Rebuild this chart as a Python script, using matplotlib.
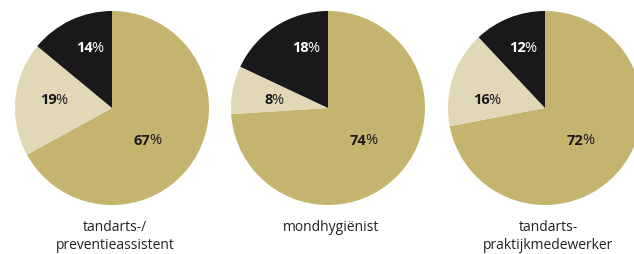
import numpy as np
import matplotlib
matplotlib.use("Agg")
import matplotlib.pyplot as plt

plt.rcParams["font.family"] = ["Open Sans", "DejaVu Sans"]

# share per group: [main, second, third] going clockwise from 12 o'clock
groups = ["tandarts-/\npreventieassistent", "mondhygiënist", "tandarts-\npraktijkmedewerker"]
share_main = [67, 74, 72]
share_mid = [19, 8, 16]
share_dark = [14, 18, 12]

colors = ["#c4b46e", "#e0d8b6", "#1b181c"]
label_colors = ["#1b181c", "#1b181c", "white"]

W, H = 634, 254
centers_x = [112, 328, 545]
cy = H - 108
R = 97
# label offsets from pie centre (px), same for every pie in the original
label_off = [(33, -33), (-61, 8), (-25, 60)]

fig = plt.figure(figsize=(W / 100, H / 100), dpi=100)
ax = fig.add_axes([0, 0, 1, 1])


def pct_label(x, y, val, color):
    t = ax.annotate(f"{val}", (x, y), xytext=(4, 0), textcoords="offset points",
                    ha="right", va="center", fontsize=10.5, fontweight="bold", color=color)
    ax.annotate("%", xy=(1, 0.5), xycoords=t, xytext=(-1.0, 0), textcoords="offset points",
                ha="left", va="center", fontsize=10.5, color=color)


for i, cx in enumerate(centers_x):
    vals = [share_main[i], share_mid[i], share_dark[i]]
    ax.pie(vals, colors=colors, startangle=90, counterclock=False,
           center=(cx, cy), radius=R, frame=True,
           wedgeprops=dict(linewidth=0))
    for j, v in enumerate(vals):
        dx, dy = label_off[j]
        pct_label(cx + dx, cy + dy, v, label_colors[j])
    ax.text(cx + 3, H - 220, groups[i], ha="center", va="top", fontsize=10,
            color="#222222", linespacing=1.25)

ax.set_xlim(0, W)
ax.set_ylim(0, H)
ax.set_aspect("equal")
ax.axis("off")
fig.savefig("out.png", dpi=100)
